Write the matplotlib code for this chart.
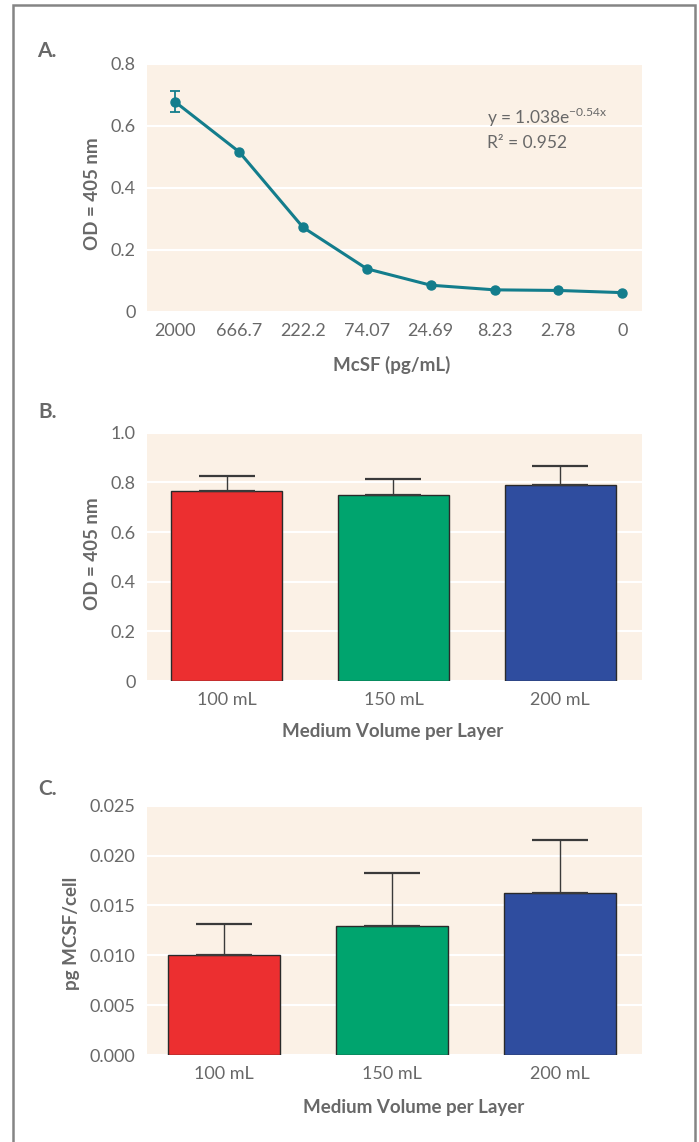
import matplotlib
matplotlib.use("Agg")
import matplotlib.pyplot as plt
from matplotlib.patches import Rectangle

plt.rcParams['font.family'] = ['Lato', 'DejaVu Sans']
plt.rcParams['mathtext.fontset'] = 'custom'
plt.rcParams['mathtext.rm'] = 'Lato'

# ---------------- data ----------------
conc_labels = ["2000", "666.7", "222.2", "74.07", "24.69", "8.23", "2.78", "0"]
od_values = [0.677, 0.516, 0.272, 0.138, 0.085, 0.070, 0.068, 0.061]
od_err_low = [0.033, 0, 0, 0, 0, 0, 0, 0]
od_err_high = [0.035, 0, 0, 0, 0, 0, 0, 0]

volumes = ["100 mL", "150 mL", "200 mL"]
od_bars = [0.766, 0.751, 0.790]
od_bars_err = [0.059, 0.061, 0.074]

pg_cell = [0.0100, 0.0129, 0.0162]
pg_cell_err = [0.0031, 0.0054, 0.0054]

bar_colors = ["#ec2f30", "#00a46e", "#2f4d9f"]
teal = "#137d8c"
bg = "#fbf1e6"
txt = "#686868"

W, H = 699, 1142
fig = plt.figure(figsize=(W / 100, H / 100), dpi=100)

def fx(px):
    return px / W

def fy(py):
    return 1 - py / H

def make_axes(top, bottom, left=146.6, right=642):
    ax = fig.add_axes([fx(left), fy(bottom), fx(right - left), (bottom - top) / H])
    ax.set_facecolor(bg)
    for s in ax.spines.values():
        s.set_visible(False)
    ax.tick_params(length=0, labelsize=13, colors=txt, pad=8)
    ax.grid(axis='y', color='white', linewidth=1.5)
    ax.set_axisbelow(True)
    return ax

# ---------------- Panel A ----------------
axA = make_axes(64, 311.5)
xA = list(range(len(conc_labels)))
axA.plot(xA, od_values, color=teal, lw=2.2, marker='o', ms=6.5, zorder=3)
axA.errorbar([xA[0]], [od_values[0]], yerr=[[od_err_low[0]], [od_err_high[0]]],
             fmt='none', ecolor=teal, elinewidth=1.3, capsize=3.5, capthick=1.3, zorder=3)
axA.set_xlim(-0.45, 7.31)
axA.set_ylim(0, 0.8)
axA.set_yticks([0, 0.2, 0.4, 0.6, 0.8])
axA.set_yticklabels(["0", "0.2", "0.4", "0.6", "0.8"])
axA.set_xticks(xA)
axA.set_xticklabels(conc_labels)
axA.text(fx(487), fy(117), r"y = 1.038e$^{\mathregular{-0.54x}}$", transform=fig.transFigure,
         fontsize=12.5, color=txt, va='center', ha='left')
axA.text(fx(487), fy(143), "R\u00b2 = 0.952", transform=fig.transFigure,
         fontsize=12.5, color=txt, va='center', ha='left')

# ---------------- Panel B ----------------
axB = make_axes(432.7, 681)
xB = list(range(len(volumes)))
axB.bar(xB, od_bars, width=0.665, color=bar_colors, edgecolor='#2a2a2a', linewidth=1.0, zorder=2)
axB.errorbar(xB, od_bars, yerr=[[0] * 3, od_bars_err], fmt='none', ecolor='#3a3a3a',
             elinewidth=1.0, capsize=20, capthick=1.6, zorder=3)
axB.set_xlim(-0.48, 2.49)
axB.set_ylim(0, 1.0)
axB.set_yticks([0, 0.2, 0.4, 0.6, 0.8, 1.0])
axB.set_yticklabels(["0", "0.2", "0.4", "0.6", "0.8", "1.0"])
axB.set_xticks(xB)
axB.set_xticklabels(volumes)

# ---------------- Panel C ----------------
axC = make_axes(805.7, 1055)
axC.bar(xB, pg_cell, width=0.665, color=bar_colors, edgecolor='#2a2a2a', linewidth=1.0, zorder=2)
axC.errorbar(xB, pg_cell, yerr=[[0] * 3, pg_cell_err], fmt='none', ecolor='#3a3a3a',
             elinewidth=1.0, capsize=20, capthick=1.6, zorder=3)
axC.set_xlim(-0.46, 2.49)
axC.set_ylim(0, 0.025)
axC.set_yticks([0, 0.005, 0.010, 0.015, 0.020, 0.025])
axC.set_yticklabels(["0.000", "0.005", "0.010", "0.015", "0.020", "0.025"])
axC.set_xticks(xB)
axC.set_xticklabels(volumes)

# ---------------- labels ----------------
lab_kw = dict(fontsize=13.5, color=txt, fontweight='bold', ha='center', va='center')
fig.text(fx(392), fy(365), "McSF (pg/mL)", **lab_kw)
fig.text(fx(393), fy(731), "Medium Volume per Layer", **lab_kw)
fig.text(fx(414), fy(1107), "Medium Volume per Layer", **lab_kw)
fig.text(fx(92), fy(194), "OD = 405 nm", rotation=90, **lab_kw)
fig.text(fx(92), fy(554), "OD = 405 nm", rotation=90, **lab_kw)
fig.text(fx(72), fy(933), "pg MCSF/cell", rotation=90, **lab_kw)

pan_kw = dict(fontsize=15, color=txt, fontweight='bold', ha='left', va='center')
fig.text(fx(37), fy(51), "A.", **pan_kw)
fig.text(fx(38), fy(412), "B.", **pan_kw)
fig.text(fx(38), fy(789), "C.", **pan_kw)

# frame around figure
fig.patches.append(Rectangle((fx(13), fy(1150)), fx(695) - fx(13), fy(5) - fy(1150),
                             transform=fig.transFigure, fill=False, edgecolor='#858585',
                             linewidth=1.8, zorder=10))

fig.savefig("out.png", dpi=100, facecolor='white')
